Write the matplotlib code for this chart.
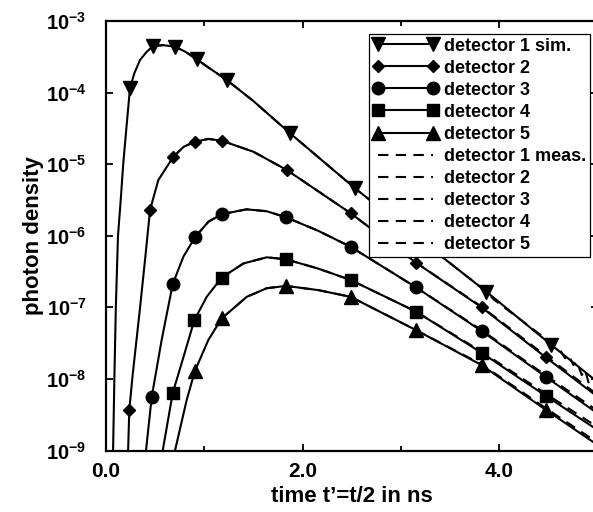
import matplotlib
matplotlib.use("Agg")
import matplotlib.pyplot as plt
from matplotlib.ticker import FixedLocator, NullLocator, FixedFormatter

plt.rcParams['font.family'] = ['Liberation Sans', 'DejaVu Sans']
plt.rcParams['font.weight'] = 'bold'
plt.rcParams['mathtext.fontset'] = 'custom'
plt.rcParams['mathtext.rm'] = 'Liberation Sans:bold'
plt.rcParams['mathtext.it'] = 'Liberation Sans:bold'
plt.rcParams['mathtext.bf'] = 'Liberation Sans:bold'

# ---- simulated photon density curves (time t' in ns, density) ----
t_sim1 = [0.072, 0.085, 0.10, 0.122, 0.15, 0.175, 0.21, 0.244, 0.288, 0.346, 0.414, 0.481,
          0.58, 0.702, 0.81, 0.923, 1.05, 1.228, 1.5, 1.872, 2.533, 3.2, 3.87, 4.53, 4.96]
n_sim1 = [1e-9, 1e-8, 1e-7, 1e-6, 3.2e-6, 1e-5, 3.5e-5, 1.15e-4, 1.86e-4, 2.85e-4, 3.72e-4, 4.48e-4,
          4.6e-4, 4.38e-4, 3.7e-4, 2.92e-4, 2.2e-4, 1.5e-4, 7.6e-5, 2.7e-5, 4.6e-6, 8.7e-7, 1.65e-7,
          2.98e-8, 1e-8]

t_sim2 = [0.225, 0.237, 0.27, 0.343, 0.397, 0.448, 0.532, 0.685, 0.79, 0.905, 1.04, 1.177, 1.5,
          1.838, 2.489, 3.154, 3.82, 4.473, 4.96]
n_sim2 = [1e-9, 3.7e-9, 1.1e-8, 9e-8, 4.6e-7, 2.29e-6, 6e-6, 1.27e-5, 1.75e-5, 2.06e-5, 2.25e-5,
          2.13e-5, 1.49e-5, 8.3e-6, 2.06e-6, 4.2e-7, 1e-7, 2.0e-8, 6.2e-9]

t_sim3 = [0.407, 0.465, 0.566, 0.679, 0.787, 0.905, 1.041, 1.177, 1.431, 1.635, 1.831, 2.16, 2.489,
          3.154, 3.82, 4.473, 4.96]
n_sim3 = [1e-9, 5.6e-9, 3.5e-8, 2.12e-7, 5.1e-7, 9.5e-7, 1.57e-6, 2.0e-6, 2.34e-6, 2.2e-6, 1.81e-6,
          1.17e-6, 7.0e-7, 1.9e-7, 4.67e-8, 1.07e-8, 3.6e-9]

t_sim4 = [0.577, 0.679, 0.787, 0.899, 1.024, 1.177, 1.397, 1.635, 1.831, 2.16, 2.489, 3.154, 3.82,
          4.473, 4.96]
n_sim4 = [1e-9, 6.4e-9, 2.0e-8, 6.65e-8, 1.4e-7, 2.6e-7, 4.1e-7, 5.0e-7, 4.69e-7, 3.47e-7, 2.41e-7,
          8.7e-8, 2.32e-8, 5.8e-9, 2.1e-9]

t_sim5 = [0.702, 0.821, 0.905, 1.041, 1.177, 1.431, 1.635, 1.831, 2.16, 2.489, 3.154, 3.82, 4.473, 4.96]
n_sim5 = [1e-9, 5.1e-9, 1.3e-8, 3.5e-8, 7.0e-8, 1.4e-7, 1.85e-7, 1.99e-7, 1.74e-7, 1.4e-7, 4.8e-8,
          1.56e-8, 3.7e-9, 1.3e-9]

# ---- symbol positions on the simulated curves ----
mk_t1 = [0.244, 0.481, 0.702, 0.923, 1.228, 1.872, 2.533, 3.2, 3.87, 4.53]
mk_n1 = [1.15e-4, 4.48e-4, 4.38e-4, 2.92e-4, 1.5e-4, 2.7e-5, 4.6e-6, 8.7e-7, 1.65e-7, 2.98e-8]
mk_t2 = [0.237, 0.448, 0.685, 0.905, 1.177, 1.838, 2.489, 3.154, 3.82, 4.473]
mk_n2 = [3.7e-9, 2.29e-6, 1.27e-5, 2.06e-5, 2.13e-5, 8.3e-6, 2.06e-6, 4.2e-7, 1e-7, 2.0e-8]
mk_t3 = [0.465, 0.679, 0.905, 1.177, 1.831, 2.489, 3.154, 3.82, 4.473]
mk_n3 = [5.6e-9, 2.12e-7, 9.5e-7, 2.0e-6, 1.81e-6, 7.0e-7, 1.9e-7, 4.67e-8, 1.07e-8]
mk_t4 = [0.679, 0.899, 1.177, 1.831, 2.489, 3.154, 3.82, 4.473]
mk_n4 = [6.4e-9, 6.65e-8, 2.6e-7, 4.69e-7, 2.41e-7, 8.7e-8, 2.32e-8, 5.8e-9]
mk_t5 = [0.905, 1.177, 1.831, 2.489, 3.154, 3.82, 4.473]
mk_n5 = [1.3e-8, 7.0e-8, 1.99e-7, 1.4e-7, 4.8e-8, 1.56e-8, 3.7e-9]

# ---- measured curves (dashed) ----
t_meas1 = [0.481, 0.58, 0.702, 0.81, 0.923, 1.05, 1.228, 1.5, 1.872, 2.533, 3.2, 3.87, 3.94, 4.534,
           4.619, 4.669, 4.703, 4.754, 4.789, 4.839, 4.873, 4.906, 4.941]
n_meas1 = [4.48e-4, 4.6e-4, 4.38e-4, 3.7e-4, 2.92e-4, 2.2e-4, 1.5e-4, 7.6e-5, 2.7e-5, 4.6e-6, 8.7e-7,
           1.65e-7, 1.3e-7, 3.14e-8, 2.53e-8, 1.94e-8, 2.16e-8, 1.56e-8, 1.74e-8, 1.13e-8, 1.33e-8,
           9.1e-9, 6.6e-9]
t_meas2 = [0.685, 0.79, 0.905, 1.04, 1.177, 1.5, 1.838, 2.489, 3.154, 3.82, 4.473, 4.96]
n_meas2 = [1.27e-5, 1.75e-5, 2.06e-5, 2.25e-5, 2.13e-5, 1.49e-5, 8.3e-6, 2.06e-6, 4.2e-7, 1.02e-7,
           2.1e-8, 6.6e-9]
t_meas3 = [0.905, 1.041, 1.177, 1.431, 1.635, 1.831, 2.16, 2.489, 3.154, 3.82, 4.473, 4.96]
n_meas3 = [9.5e-7, 1.57e-6, 2.0e-6, 2.34e-6, 2.2e-6, 1.81e-6, 1.17e-6, 7.0e-7, 1.9e-7, 4.8e-8,
           1.12e-8, 3.9e-9]
t_meas4 = [1.177, 1.397, 1.635, 1.831, 2.16, 2.489, 3.154, 3.82, 4.473, 4.96]
n_meas4 = [2.6e-7, 4.1e-7, 5.0e-7, 4.69e-7, 3.47e-7, 2.41e-7, 8.7e-8, 2.4e-8, 6.2e-9, 2.3e-9]
t_meas5 = [1.177, 1.431, 1.635, 1.831, 2.16, 2.489, 3.154, 3.82, 4.473, 4.96]
n_meas5 = [7.0e-8, 1.4e-7, 1.85e-7, 1.99e-7, 1.74e-7, 1.4e-7, 4.8e-8, 1.6e-8, 3.9e-9, 1.4e-9]

sim_labels = ['detector 1 sim.', 'detector 2', 'detector 3', 'detector 4', 'detector 5']
meas_labels = ['detector 1 meas.', 'detector 2', 'detector 3', 'detector 4', 'detector 5']
markers = ['v', 'D', 'o', 's', '^']
marker_sizes = [9.5, 6.2, 9.0, 8.0, 9.5]

x_ticks = [0.0, 2.0, 4.0]
x_tick_labels = ['0.0', '2.0', '4.0']
x_minor_ticks = [1.0, 3.0]
y_ticks = [1e-9, 1e-8, 1e-7, 1e-6, 1e-5, 1e-4, 1e-3]
y_tick_labels = [r'$\mathrm{10^{-9}}$', r'$\mathrm{10^{-8}}$', r'$\mathrm{10^{-7}}$',
                 r'$\mathrm{10^{-6}}$', r'$\mathrm{10^{-5}}$', r'$\mathrm{10^{-4}}$',
                 r'$\mathrm{10^{-3}}$']

sim_t = [t_sim1, t_sim2, t_sim3, t_sim4, t_sim5]
sim_n = [n_sim1, n_sim2, n_sim3, n_sim4, n_sim5]
mk_t = [mk_t1, mk_t2, mk_t3, mk_t4, mk_t5]
mk_n = [mk_n1, mk_n2, mk_n3, mk_n4, mk_n5]
meas_t = [t_meas1, t_meas2, t_meas3, t_meas4, t_meas5]
meas_n = [n_meas1, n_meas2, n_meas3, n_meas4, n_meas5]

fig = plt.figure(figsize=(5.93, 5.12), dpi=100)
ax = fig.add_axes([106 / 593, 61.5 / 512, 491.6 / 593, 429.5 / 512])

lw = 1.5
handles = []
for i in range(5):
    ax.plot(sim_t[i], sim_n[i], color='black', lw=lw, solid_joinstyle='round')
    ax.plot(mk_t[i], mk_n[i], ls='none', marker=markers[i], ms=marker_sizes[i],
            color='black')
    h, = ax.plot([], [], color='black', lw=lw, marker=markers[i], ms=marker_sizes[i],
                 label=sim_labels[i])
    handles.append(h)
for i in range(5):
    h, = ax.plot(meas_t[i], meas_n[i], color='black', lw=lw, ls=(0, (5, 3.5)),
                 label=meas_labels[i])
    handles.append(h)

ax.set_yscale('log')
ax.set_xlim(0.0, 5.0)
ax.set_ylim(1e-9, 1e-3)

ax.xaxis.set_major_locator(FixedLocator(x_ticks))
ax.xaxis.set_major_formatter(FixedFormatter(x_tick_labels))
ax.xaxis.set_minor_locator(FixedLocator(x_minor_ticks))
ax.yaxis.set_major_locator(FixedLocator(y_ticks))
ax.yaxis.set_major_formatter(FixedFormatter(y_tick_labels))
ax.yaxis.set_minor_locator(NullLocator())

for s in ax.spines.values():
    s.set_linewidth(1.6)
ax.tick_params(which='both', direction='in', top=True, right=True, width=1.3)
ax.tick_params(which='major', length=5)
ax.tick_params(which='minor', length=3.5)
ax.tick_params(axis='x', labelsize=15, pad=8)
ax.tick_params(axis='y', labelsize=14.5, pad=14)
for lab in ax.get_xticklabels() + ax.get_yticklabels():
    lab.set_fontweight('bold')

ax.set_xlabel('time t\u2019=t/2 in ns', fontsize=16, fontweight='bold', labelpad=4)
ax.set_ylabel('photon density', fontsize=16, fontweight='bold', labelpad=1)

leg = ax.legend(handles=handles, loc='upper right', bbox_to_anchor=(0.9845, 0.9697),
                borderaxespad=0, numpoints=2, handlelength=3.65, handletextpad=0.31,
                labelspacing=0.28, borderpad=0.2, fancybox=False, framealpha=1,
                edgecolor='black', prop={'size': 13, 'weight': 'bold'})
leg.get_frame().set_linewidth(0.9)

fig.savefig('out.png', dpi=100)
